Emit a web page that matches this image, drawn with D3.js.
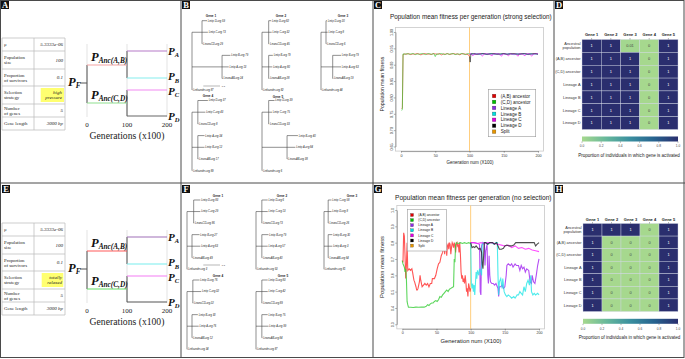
<!DOCTYPE html>
<html><head><meta charset="utf-8">
<script src="https://cdn.jsdelivr.net/npm/d3@7"></script>
<style>body{margin:0;background:#fff}svg{display:block}</style>
</head><body>
<svg id="c" width="685" height="359"></svg>
<script>
// ================= DATA =================
const paramLabels = [["μ"],["Population","size"],["Proportion","of survivors"],["Selection","strategy"],["Number","of genes"],["Gene length"]];
const paramValuesA = [["5.3333e-06"],["100"],["0.1"],["high","pressure"],["5"],["3000 bp"]];
const paramValuesE = [["5.3333e-06"],["100"],["0.1"],["totally","relaxed"],["5"],["3000 bp"]];
const genTicks = [0,100,200];
const schemaBranches = [
  {id:"AB", from:0, to:100, label:"Anc(A,B)"},
  {id:"CD", from:0, to:100, label:"Anc(C,D)"},
  {id:"A", from:100, to:200, label:"A"},
  {id:"B", from:100, to:200, label:"B"},
  {id:"C", from:100, to:200, label:"C"},
  {id:"D", from:100, to:200, label:"D"}
];

function tr(cd, ab, tips, founder){ // tips: [[name,len] x6]
  return {len:0, children:[
    {len:cd, children:tips.slice(0,3).map(t=>({name:t[0],len:t[1]}))},
    {len:ab, children:tips.slice(3,6).map(t=>({name:t[0],len:t[1]}))},
    {name:founder[0], len:founder[1]}]};
}
const treesB = [
  tr(0.06,0.18,[["Lintip D-org 59",0.03],["Lintip C-org 73",0.035],["LinancCD-org 29",0.003],["Lintip B-org 79",0.05],["Lintip A-org 13",0.04],["LinancAB-org 24",0.004]],["Linfounder-org 87",0.002]),
  tr(0.04,0.04,[["Lintip D-org 82",0.015],["Lintip C-org 32",0.018],["LinancCD-org 45",0.003],["Lintip B-org 79",0.025],["Lintip A-org 80",0.022],["LinancAB-org 28",0.004]],["Linfounder-org 82",0.002]),
  tr(0.03,0.07,[["Lintip D-org 20",0.005],["Lintip C-org 8",0.01],["LinancCD-org 6",0.003],["Lintip B-org 79",0.05],["Lintip A-org 63",0.05],["LinancAB-org 19",0.004]],["Linfounder-org 44",0.002]),
  tr(0.035,0.035,[["Lintip D-org 37",0.06],["Lintip C-org 43",0.045],["LinancCD-org 8",0.004],["Lintip A-org 34",0.04],["Lintip B-org 12",0.04],["LinancAB-org 17",0.004]],["Linfounder-org 89",0.002]),
  tr(0.04,0.15,[["Lintip D-org 39",0.035],["Lintip C-org 75",0.02],["LinancCD-org 33",0.003],["Lintip B-org 40",0.065],["Lintip A-org 84",0.05],["LinancAB-org 38",0.003]],["Linfounder-org 6",0.002])
];
const treesF = [
  tr(0.04,0.03,[["Lintip D-org 83",0.04],["Lintip C-org 29",0.04],["LinancCD-org 86",0.003],["Lintip B-org 27",0.045],["Lintip A-org 63",0.05],["LinancAB-org 49",0.003]],["Linfounder-org 3",0.002]),
  tr(0.035,0.035,[["Lintip D-org 6",0.035],["Lintip C-org 13",0.035],["LinancCD-org 73",0.003],["Lintip B-org 79",0.04],["Lintip A-org 57",0.035],["LinancAB-org 40",0.003]],["Linfounder-org 53",0.002]),
  tr(0.025,0.025,[["Lintip C-org 58",0.02],["Lintip D-org 8",0.02],["LinancCD-org 26",0.003],["Lintip B-org 30",0.025],["Lintip A-org 3",0.025],["LinancAB-org 64",0.003]],["Linfounder-org 81",0.002]),
  tr(0.035,0.03,[["Lintip D-org 76",0.04],["Lintip C-org 32",0.05],["LinancCD-org 22",0.003],["Lintip B-org 30",0.035],["Lintip A-org 76",0.04],["LinancAB-org 12",0.003]],["Linfounder-org 34",0.002]),
  tr(0.035,0.035,[["Lintip D-org 83",0.035],["Lintip C-org 42",0.035],["LinancCD-org 89",0.003],["Lintip B-org 75",0.035],["Lintip A-org 99",0.04],["LinancAB-org 84",0.003]],["Linfounder-org 87",0.002])
];
const geneTitles = ["Gene 1","Gene 2","Gene 3","Gene 4","Gene 5"];

// Fitness, strong selection (panel C)
const fitC_AB = [[1,.765],[2,.768],[3,.931],[5,.933],[8,.932],[11,.934],[14,.931],[17,.933],[20,.932],[23,.934],[26,.933],[29,.930],[32,.933],[35,.934],[38,.932],[41,.933],[44,.931],[47,.934],[50,.933],[53,.932],[56,.934],[59,.930],[62,.933],[65,.932],[68,.934],[71,.931],[74,.933],[77,.934],[80,.932],[83,.933],[86,.930],[89,.934],[92,.933],[95,.932],[98,.931],[100,.925]];
const fitC_CD = [[1,.760],[2,.764],[3,.933],[6,.932],[9,.934],[12,.932],[15,.933],[18,.934],[21,.931],[24,.933],[27,.932],[30,.934],[33,.933],[36,.931],[39,.934],[42,.933],[45,.932],[48,.934],[50,.925],[52,.933],[55,.932],[58,.934],[61,.933],[64,.931],[67,.934],[70,.932],[73,.933],[76,.934],[79,.931],[82,.933],[85,.932],[88,.934],[91,.933],[94,.931],[97,.934],[100,.933]];
const fitC_A = [[100,.932],[103,.934],[106,.931],[110,.933],[114,.932],[118,.934],[122,.933],[126,.931],[130,.934],[134,.932],[138,.933],[142,.934],[146,.931],[150,.933],[154,.932],[158,.934],[162,.933],[166,.931],[170,.934],[174,.932],[178,.933],[182,.934],[186,.931],[190,.933],[194,.932],[198,.934],[200,.933]];
const fitC_B = [[100,.933],[104,.932],[108,.934],[112,.933],[116,.931],[120,.934],[124,.932],[128,.933],[132,.934],[136,.932],[140,.933],[144,.931],[148,.934],[152,.933],[156,.932],[160,.934],[164,.931],[168,.933],[172,.932],[176,.934],[180,.933],[184,.931],[188,.934],[192,.932],[196,.933],[200,.932]];
const fitC_C = [[100,.934],[102,.933],[105,.927],[107,.934],[111,.932],[115,.934],[119,.926],[121,.933],[125,.934],[129,.932],[133,.927],[135,.934],[139,.933],[143,.932],[147,.926],[149,.934],[153,.933],[157,.927],[159,.934],[163,.932],[167,.933],[171,.926],[173,.934],[177,.933],[181,.927],[183,.933],[187,.934],[191,.926],[193,.933],[197,.934],[200,.933]];
const fitC_D = [[100,.925],[101,.908],[102,.933],[106,.934],[110,.932],[115,.933],[120,.934],[125,.932],[130,.933],[135,.934],[140,.932],[145,.933],[150,.934],[155,.932],[160,.933],[165,.934],[170,.932],[175,.933],[180,.934],[185,.932],[190,.933],[195,.934],[200,.932]];

// Fitness, no selection (panel G)
const fitG_AB = [[0,.69],[1,.68],[2,.86],[3,.84],[4,.72],[5,.58],[6,.66],[7,.80],[8,.63],[10,.64],[12,.63],[14,.64],[15,.62],[17,.57],[18,.56],[20,.53],[21,.51],[22,.51],[23,.52],[25,.56],[26,.60],[27,.57],[29,.53],[31,.54],[33,.55],[35,.54],[37,.55],[39,.53],[41,.55],[43,.55],[44,.58],[47,.58],[49,.60],[51,.64],[53,.67],[55,.68],[57,.72],[59,.74],[60,.76],[61,.79],[62,.73],[63,.78],[64,.80],[65,.72],[66,.78],[67,.79],[68,.76],[69,.80],[70,.79],[71,.73],[72,.77],[73,.80],[74,.79],[75,.77],[76,.80],[77,.78],[78,.74],[79,.79],[80,.80],[81,.78],[82,.79],[83,.74],[84,.80],[85,.73],[86,.62],[87,.58],[88,.60],[89,.56],[90,.58],[91,.55],[92,.60],[93,.56],[94,.50],[95,.52],[96,.47],[97,.55],[98,.53],[99,.50],[100,.52]];
const fitG_CD = [[0,.69],[1,.67],[2,.66],[3,.65],[4,.62],[5,.64],[6,.58],[7,.44],[8,.42],[9,.405],[12,.404],[16,.403],[20,.405],[24,.404],[28,.405],[32,.405],[35,.41],[37,.42],[39,.415],[41,.425],[43,.43],[45,.43],[47,.44],[49,.445],[51,.44],[53,.45],[55,.47],[57,.465],[59,.48],[61,.49],[63,.50],[65,.51],[67,.50],[69,.515],[71,.52],[73,.525],[75,.53],[76,.70],[77,.68],[78,.79],[79,.80],[82,.795],[85,.80],[88,.795],[91,.80],[94,.795],[97,.80],[100,.795]];
const fitG_A = [[100,.80],[105,.80],[110,.795],[113,.79],[114,.50],[115,.48],[116,.78],[118,.80],[120,.79],[121,.66],[122,.75],[124,.79],[125,.60],[126,.55],[127,.72],[128,.60],[129,.56],[131,.55],[133,.55],[135,.54],[137,.55],[139,.53],[140,.52],[141,.47],[142,.53],[144,.53],[146,.54],[148,.52],[150,.53],[152,.60],[153,.66],[155,.67],[158,.66],[160,.67],[162,.65],[165,.67],[167,.66],[170,.66],[172,.63],[174,.66],[176,.64],[178,.65],[180,.62],[182,.64],[185,.63],[187,.56],[189,.55],[190,.60],[192,.56],[194,.55],[196,.60],[198,.66],[200,.70]];
const fitG_B = [[100,.80],[101,.55],[102,.52],[103,.55],[104,.50],[105,.54],[106,.48],[107,.55],[108,.62],[109,.58],[110,.63],[112,.60],[113,.64],[115,.62],[116,.60],[117,.80],[118,.79],[120,.80],[122,.80],[125,.79],[128,.80],[131,.80],[134,.79],[137,.80],[139,.80],[140,.60],[141,.48],[142,.56],[144,.58],[146,.52],[147,.58],[149,.50],[151,.48],[153,.47],[155,.48],[158,.47],[160,.46],[163,.47],[165,.46],[168,.48],[170,.48],[172,.50],[174,.49],[176,.48],[178,.53],[180,.50],[182,.55],[184,.57],[186,.54],[188,.60],[189,.50],[191,.48],[193,.49],[195,.48],[198,.49],[200,.48]];
const fitG_C = [[100,.80],[105,.80],[110,.795],[115,.80],[120,.795],[125,.80],[130,.80],[135,.795],[140,.79],[145,.785],[150,.78],[155,.785],[160,.77],[165,.78],[170,.765],[175,.77],[180,.76],[185,.765],[190,.755],[195,.75],[200,.745]];
const fitG_D = [[100,.80],[102,.77],[104,.775],[106,.77],[108,.78],[110,.77],[112,.76],[114,.765],[116,.74],[117,.67],[118,.64],[119,.72],[120,.80],[122,.80],[125,.79],[128,.80],[132,.80],[135,.79],[138,.80],[140,.78],[142,.76],[145,.76],[148,.765],[150,.78],[153,.785],[156,.78],[160,.78],[163,.785],[166,.80],[170,.80],[175,.80],[180,.80],[185,.80],[190,.80],[193,.80],[195,.78],[197,.79],[200,.80]];
const splitGen = 100;
const seriesNames = ["(A,B) ancestor","(C,D) ancestor","Lineage A","Lineage B","Lineage C","Lineage D","Split"];
const genAxisTicks = [0,50,100,150,200];
const yTicksC = [0.65,0.70,0.75,0.80,0.85,0.90,0.95,1.00];
const yTicksG = [0.3,0.4,0.5,0.6,0.7,0.8,0.9,1.0];

// Heatmaps
const geneNames = ["Gene 1","Gene 2","Gene 3","Gene 4","Gene 5"];
const popNames = ["Ancestral population","(A,B) ancestor","(C,D) ancestor","Lineage A","Lineage B","Lineage C","Lineage D"];
const actD = [[1,1,0.01,0,1],[1,1,1,0,1],[1,1,1,0,1],[1,1,1,0,1],[1,1,1,0,1],[1,1,1,0,1],[1,1,1,0,1]];
const actH = [[1,1,1,0,1],[1,0,0,0,1],[1,0,0,0,1],[1,0,0,0,1],[1,0,0,0,1],[1,0,0,0,1],[1,0,0,0,1]];
const cbTicks = [0,0.2,0.4,0.6,0.8,1.0];

// ================= STYLE =================
const SERIF = "Liberation Serif, Times New Roman, serif";
const SANS = "Liberation Sans, Arial, sans-serif";
const lineColors = ["#ff2a2a","#33cc33","#a020f0","#22e6e6","#ff22ff","#222222","#ffa500"];
const legendColors = ["#e00000","#00c000","#8a2be2","#00dede","#e000e0","#000000","#e69500"];
const heatStops = ["#a6d88e","#67b89b","#3a8f9f","#27638f","#2a2e6e"];

const svg = d3.select("#c");
const defs = svg.append("defs");
svg.append("rect").attr("width",685).attr("height",359).attr("fill","#fff");

function panel(x,y,w,h,id){
  defs.append("clipPath").attr("id",id).append("rect").attr("x",x).attr("y",y).attr("width",w).attr("height",h);
  return svg.append("g").attr("clip-path",`url(#${id})`);
}
function fitW(sel, w){
  const l = sel.node().getComputedTextLength();
  const fs = parseFloat(sel.attr("font-size"));
  if(l>0) sel.attr("font-size", fs*w/l);
  return sel;
}

// ---------- Panels A / E ----------
function drawParams(g, yOff, values, hlBox){
  const rows = [38,51,69,86,104,117,130].map(v=>v+yOff);
  const cols = [2,34,65];
  const lc = "#b8b8b8";
  rows.forEach(r=>g.append("line").attr("x1",cols[0]).attr("x2",cols[2]).attr("y1",r).attr("y2",r).attr("stroke",lc).attr("stroke-width",0.7));
  cols.forEach(c=>g.append("line").attr("x1",c).attr("x2",c).attr("y1",rows[0]).attr("y2",rows[6]).attr("stroke",lc).attr("stroke-width",0.7));
  const r3 = rows[3], r4 = rows[4];
  g.append("rect").attr("x",hlBox[0]).attr("y",r3+2).attr("width",hlBox[1]).attr("height",r4-r3-4).attr("fill","#ffff70");
  paramLabels.forEach((lab,i)=>{
    const cy = (rows[i]+rows[i+1])/2;
    const t = g.append("text").attr("font-family",SERIF).attr("font-size",4.8).attr("fill","#222");
    lab.forEach((s,j)=>t.append("tspan").attr("x",4).attr("y",cy+1.6+(j-(lab.length-1)/2)*5).text(s));
    const v = values[i];
    const tv = g.append("text").attr("font-family",SERIF).attr("font-style","italic").attr("font-size",5).attr("fill","#222").attr("text-anchor","end");
    v.forEach((s,j)=>tv.append("tspan").attr("x",i===3?62:63).attr("y",cy+1.7+(j-(v.length-1)/2)*5).text(s));
  });
}
function drawSchema(g, yOff, cols){
  const x = d3.scaleLinear().domain([0,200]).range([87,167]);
  const Y = {F:83,AB:65,CD:103,A:51,B:78,C:90,D:116};
  const yy = k=>Y[k]+yOff;
  genTicks.forEach(t=>g.append("line").attr("x1",x(t)).attr("x2",x(t)).attr("y1",44+yOff).attr("y2",117+yOff).attr("stroke","#dcdcdc").attr("stroke-width",0.8));
  const dk = "#555";
  g.append("line").attr("x1",80).attr("x2",x(0)).attr("y1",yy("F")).attr("y2",yy("F")).attr("stroke",dk).attr("stroke-width",1);
  g.append("line").attr("x1",x(0)).attr("x2",x(0)).attr("y1",yy("AB")).attr("y2",yy("CD")).attr("stroke",dk).attr("stroke-width",1);
  g.append("line").attr("x1",x(100)).attr("x2",x(100)).attr("y1",yy("A")).attr("y2",yy("B")).attr("stroke",dk).attr("stroke-width",1);
  g.append("line").attr("x1",x(100)).attr("x2",x(100)).attr("y1",yy("C")).attr("y2",yy("D")).attr("stroke",dk).attr("stroke-width",1);
  schemaBranches.forEach(b=>{
    g.append("line").attr("x1",x(b.from)).attr("x2",x(b.to)).attr("y1",yy(b.id)).attr("y2",yy(b.id))
      .attr("stroke",cols[b.id]).attr("stroke-width",1.2);
  });
  function plab(px, py, sub, big, small){
    const t = g.append("text").attr("x",px).attr("y",py).attr("font-family",SERIF).attr("font-weight","bold").attr("font-style","italic").attr("fill","#111");
    t.append("tspan").attr("font-size",big).text("P");
    t.append("tspan").attr("font-size",small).attr("dy",2.4).text(sub);
  }
  plab(91, yy("AB")-4.5, "Anc(A,B)", 12.5, 7.3);
  plab(91, yy("CD")-4, "Anc(C,D)", 12.5, 7.3);
  plab(68, yy("F")+3, "F", 12.5, 7.5);
  plab(168, yy("A")+3.5, "A", 11, 6.5);
  plab(168, yy("B")+2.3, "B", 11, 6.5);
  plab(168, yy("C")+4.8, "C", 11, 6.5);
  plab(168, yy("D")+3.5, "D", 11, 6.5);
  genTicks.forEach(t=>g.append("text").attr("x",x(t)).attr("y",126.7+yOff).attr("text-anchor","middle").attr("font-family",SERIF).attr("font-size",7).attr("fill","#222").text(String(t)));
  const at = g.append("text").attr("x",127).attr("y",138.8+yOff).attr("text-anchor","middle").attr("font-family",SERIF).attr("font-size",9).attr("fill","#222").text("Generations (x100)");
  fitW(at,75);
}
const gA = panel(0,0,181,183,"clA");
drawParams(gA, 0, paramValuesA, [40.7,23.3]);
drawSchema(gA, 0, {AB:"#f4a3a3",CD:"#8fe08f",A:"#b57ac8",B:"#86eeee",C:"#f28af2",D:"#666"});
const gE = panel(0,183,181,176,"clE");
drawParams(gE, 185, paramValuesE, [41.7,21.6]);
drawSchema(gE, 186, {AB:"#ff5a5a",CD:"#66dd66",A:"#a070b8",B:"#78eeee",C:"#f47cf4",D:"#555"});

// ---------- Panels B / F (trees) ----------
const PXU = 167;
function drawTree(g, tree, L, title){
  const root = d3.hierarchy(tree);
  root.eachBefore(d=>d.cum = (d.parent?d.parent.cum:0) + (d.data.len||0));
  const x = d3.scaleLinear().domain([0,1]).range([L.x0, L.x0+PXU]);
  const leaves = root.leaves();
  const y = d3.scaleLinear().domain([0,leaves.length-1]).range([L.y0,L.y1]);
  leaves.forEach((d,i)=>d.yp = y(i));
  root.eachAfter(d=>{ if(d.children){ d.yp = (d.children[0].yp + d.children[d.children.length-1].yp)/2; } });
  const st = "#444";
  root.descendants().forEach(d=>{
    if(d.parent){
      g.append("line").attr("x1",x(d.parent.cum)).attr("x2",x(d.cum)).attr("y1",d.yp).attr("y2",d.yp).attr("stroke",st).attr("stroke-width",0.6);
    }
    if(d.children){
      g.append("line").attr("x1",x(d.cum)).attr("x2",x(d.cum)).attr("y1",d.children[0].yp).attr("y2",d.children[d.children.length-1].yp).attr("stroke",st).attr("stroke-width",0.6);
    }
  });
  leaves.forEach(d=>{
    g.append("text").attr("x",x(d.cum)+0.8).attr("y",d.yp+0.9).attr("font-family",SANS).attr("font-style","italic").attr("font-size",2.6).attr("fill","#222").text(d.data.name);
  });
  g.append("text").attr("x",L.tx).attr("y",L.ty).attr("text-anchor","middle").attr("font-family",SANS).attr("font-weight","bold").attr("font-size",3.1).attr("fill","#222").text(title);
}
function scaleBar(g, x0, yb){
  const x = d3.scaleLinear().domain([0,1]).range([x0, x0+PXU]);
  g.append("line").attr("x1",x(0)).attr("x2",x(0.1)).attr("y1",yb).attr("y2",yb).attr("stroke","#888").attr("stroke-width",0.6);
  g.append("text").attr("x",x(0.1)+1.7).attr("y",yb+0.9).attr("font-family",SANS).attr("font-size",2.5).attr("fill","#333").text("0.1");
}
const layB = [
  {x0:192,y0:20.7,y1:90,tx:211,ty:17},
  {x0:262,y0:20.7,y1:90,tx:281,ty:17},
  {x0:321,y0:20.7,y1:90,tx:343,ty:17},
  {x0:192,y0:100.5,y1:170.7,tx:208,ty:97.3},
  {x0:262,y0:100.5,y1:170.7,tx:278,ty:98}
];
const layF = [
  {x0:187,y0:200,y1:269.3,tx:218,ty:197},
  {x0:256,y0:200,y1:269.3,tx:282,ty:197},
  {x0:324,y0:200,y1:269.3,tx:352,ty:197},
  {x0:187,y0:280,y1:349.3,tx:218,ty:276.5},
  {x0:256,y0:280,y1:349.3,tx:283,ty:276.5}
];
const gB = panel(181,0,192,183,"clB");
treesB.forEach((t,i)=>drawTree(gB,t,layB[i],geneTitles[i]));
scaleBar(gB, 203.3, 86);
const gF = panel(181,183,192,176,"clF");
treesF.forEach((t,i)=>drawTree(gF,t,layF[i],geneTitles[i]));
scaleBar(gF, 203.3, 265);

// ---------- Panels C / G (fitness) ----------
function drawFit(g, P){
  const x = d3.scaleLinear().domain([0,200]).range(P.xr);
  const y = d3.scaleLinear().domain(P.yd).range(P.yr);
  const px = (P.xr[1]-P.xr[0])*0.04, py = (P.yr[0]-P.yr[1])*0.04;
  const bx0 = P.xr[0]-px, bx1 = P.xr[1]+px, by0 = P.yr[1]-py, by1 = P.yr[0]+py;
  g.append("rect").attr("x",bx0).attr("y",by0).attr("width",bx1-bx0).attr("height",by1-by0).attr("fill","none").attr("stroke","#c8c8c8").attr("stroke-width",0.8);
  g.append("line").attr("x1",x(splitGen)).attr("x2",x(splitGen)).attr("y1",by0).attr("y2",by1).attr("stroke","#ffc870").attr("stroke-width",0.9);
  const line = d3.line().x(d=>x(d[0])).y(d=>y(d[1]));
  P.series.forEach(s=>{
    g.append("path").datum(s.data).attr("d",line).attr("fill","none").attr("stroke",lineColors[s.ci]).attr("stroke-opacity",P.op).attr("stroke-width",P.lw);
  });
  const ax = g.append("g").attr("transform",`translate(0,${by1})`).call(d3.axisBottom(x).tickValues(genAxisTicks).tickSize(1.6).tickSizeOuter(0).tickPadding(1.2));
  ax.selectAll("text").attr("font-size",P.tfs).attr("font-family",SANS).attr("fill","#333");
  const ay = g.append("g").attr("transform",`translate(${bx0},0)`).call(d3.axisLeft(y).tickValues(P.yt).tickFormat(d3.format(P.fmt)).tickSize(1.6).tickSizeOuter(0));
  ay.selectAll("text").attr("transform","rotate(-90)").attr("x",0).attr("y",-2.6).attr("dy",0).attr("text-anchor","middle").attr("font-size",P.tfs).attr("font-family",SANS).attr("fill","#333");
  [ax,ay].forEach(a=>{a.select(".domain").attr("stroke","#555").attr("stroke-width",0.5); a.selectAll(".tick line").attr("stroke","#555").attr("stroke-width",0.5);});
  const t = g.append("text").attr("x",P.title[1]).attr("y",P.title[2]).attr("font-family",SANS).attr("font-size",6).attr("fill","#222").text(P.title[0]);
  fitW(t, P.title[3]);
  const xt = g.append("text").attr("x",P.xl[0]).attr("y",P.xl[1]).attr("text-anchor","middle").attr("font-family",SANS).attr("font-size",5).attr("fill","#222").text("Generation num (X100)");
  fitW(xt, P.xl[2]);
  const yt = g.append("text").attr("transform",`translate(${P.yl[0]},${P.yl[1]}) rotate(-90)`).attr("text-anchor","middle").attr("font-family",SANS).attr("font-size",5).attr("fill","#222").text("Population mean fitness");
  fitW(yt, P.yl[2]);
  const Lg = P.leg;
  g.append("rect").attr("x",Lg.x).attr("y",Lg.y).attr("width",Lg.w).attr("height",Lg.h).attr("fill","#fff").attr("stroke","#999").attr("stroke-width",0.6);
  seriesNames.forEach((n,i)=>{
    const yy = Lg.y0 + i*Lg.dy;
    g.append("rect").attr("x",Lg.sx).attr("y",yy-Lg.ss/2).attr("width",Lg.ss).attr("height",Lg.ss).attr("fill",legendColors[i]).attr("stroke","#333").attr("stroke-width",0.25);
    g.append("text").attr("x",Lg.tx).attr("y",yy+Lg.fs*0.36).attr("font-family",SANS).attr("font-size",Lg.fs).attr("fill","#222").text(n);
  });
}
const gC = panel(373,0,181,183,"clC");
drawFit(gC, {
  xr:[401,538], yd:[0.65,1.0], yr:[146.5,32], yt:yTicksC, fmt:".2f", tfs:3.7, lw:0.9, op:0.75,
  series:[{data:fitC_AB,ci:0},{data:fitC_CD,ci:1},{data:fitC_A,ci:2},{data:fitC_B,ci:3},{data:fitC_C,ci:4},{data:fitC_D,ci:5}],
  title:["Population mean fitness per generation (strong selection)",390,19,162],
  xl:[470,164,47], yl:[383.5,84,55],
  leg:{x:488.3,y:89.3,w:47.4,h:47.4,y0:96,dy:5.95,sx:492.3,ss:3.6,tx:500.7,fs:4.6}
});
const gG = panel(373,183,181,176,"clG");
drawFit(gG, {
  xr:[402.3,539], yd:[0.3,1.0], yr:[324.3,210], yt:yTicksG, fmt:".1f", tfs:3.6, lw:1.1, op:0.8,
  series:[{data:fitG_AB,ci:0},{data:fitG_CD,ci:1},{data:fitG_A,ci:2},{data:fitG_B,ci:3},{data:fitG_C,ci:4},{data:fitG_D,ci:5}],
  title:["Population mean fitness per generation (no selection)",395,199.5,157],
  xl:[471,343,61], yl:[383.5,267,62],
  leg:{x:407.3,y:209.3,w:39.4,h:41.7,y0:215,dy:5.1,sx:410.5,ss:3,tx:418.3,fs:3.3}
});

// ---------- Panels D / H (heatmaps) ----------
const heatColor = d3.scaleLinear().domain([0,0.25,0.5,0.75,1]).range(heatStops);
const grad = defs.append("linearGradient").attr("id","cbg").attr("x1","0%").attr("x2","100%").attr("y1","0%").attr("y2","0%");
heatStops.forEach((c,i)=>grad.append("stop").attr("offset",(i*25)+"%").attr("stop-color",c));
function drawHeat(g, data, L){
  const x = d3.scaleBand().domain(geneNames).range([L.x0,L.x1]);
  const y = d3.scaleBand().domain(popNames).range([L.y0,L.y1]);
  data.forEach((row,ri)=>row.forEach((v,ci)=>{
    const gx = x(geneNames[ci]), gy = y(popNames[ri]);
    g.append("rect").attr("x",gx).attr("y",gy).attr("width",x.bandwidth()).attr("height",y.bandwidth()).attr("fill",heatColor(v)).attr("stroke","#d0d6e4").attr("stroke-width",0.4);
    g.append("text").attr("x",gx+x.bandwidth()/2).attr("y",gy+y.bandwidth()/2+1.4).attr("text-anchor","middle").attr("font-family",SANS).attr("font-size",3.9)
      .attr("fill",v>0.5?"#fff":"#444").text(String(v));
  }));
  geneNames.forEach(n=>{
    const cx = x(n)+x.bandwidth()/2;
    g.append("text").attr("x",cx).attr("y",L.hy).attr("text-anchor","middle").attr("font-family",SANS).attr("font-weight","bold").attr("font-size",4).attr("fill","#222").text(n);
    g.append("line").attr("x1",cx).attr("x2",cx).attr("y1",L.y0-1.5).attr("y2",L.y0).attr("stroke","#444").attr("stroke-width",0.4);
  });
  popNames.forEach(n=>{
    const cy = y(n)+y.bandwidth()/2;
    const parts = n==="Ancestral population" ? ["Ancestral","population"] : [n];
    const t = g.append("text").attr("text-anchor","end").attr("font-family",SANS).attr("font-size",3.9).attr("fill","#333");
    parts.forEach((p,j)=>t.append("tspan").attr("x",L.x0-1.5).attr("y",cy+1.4+(j-(parts.length-1)/2)*4.2).text(p));
  });
  const cx = d3.scaleLinear().domain([0,1]).range([L.x0,L.x1]);
  g.append("rect").attr("x",L.x0).attr("y",L.cy).attr("width",L.x1-L.x0).attr("height",5).attr("fill","url(#cbg)");
  cbTicks.forEach(t=>{
    g.append("line").attr("x1",cx(t)).attr("x2",cx(t)).attr("y1",L.cy+5).attr("y2",L.cy+6.3).attr("stroke","#444").attr("stroke-width",0.4);
    g.append("text").attr("x",cx(t)).attr("y",L.cly).attr("text-anchor","middle").attr("font-family",SANS).attr("font-size",3.2).attr("fill","#444").text(d3.format(".1f")(t));
  });
  const tt = g.append("text").attr("x",(L.x0+L.x1)/2-1).attr("y",L.cty).attr("text-anchor","middle").attr("font-family",SANS).attr("font-size",4.3).attr("fill","#222").text("Proportion of individuals in which gene is activated");
  fitW(tt, 102);
}
const gD = panel(554,0,131,183,"clD");
drawHeat(gD, actD, {x0:582,x1:678,y0:39.5,y1:129.5,hy:36.2,cy:136.5,cly:147,cty:157});
const gH = panel(554,183,131,176,"clH");
drawHeat(gH, actH, {x0:583,x1:678,y0:223.5,y1:311.5,hy:220.5,cy:318.8,cly:329.5,cty:339.3});

// ---------- Borders and panel letters ----------
const bc = "#4a4a4a";
svg.append("rect").attr("x",0.5).attr("y",0.5).attr("width",683.5).attr("height",357).attr("fill","none").attr("stroke",bc).attr("stroke-width",1);
svg.append("line").attr("x1",0).attr("x2",685).attr("y1",183).attr("y2",183).attr("stroke",bc).attr("stroke-width",1);
[181,373,554].forEach(xv=>svg.append("line").attr("x1",xv).attr("x2",xv).attr("y1",0).attr("y2",358).attr("stroke",bc).attr("stroke-width",1));
const letters = [["A",1,1],["B",182,1],["C",374,1],["D",555,1],["E",2,185],["F",182,185],["G",374,185],["H",555,185]];
letters.forEach(([l,lx,ly])=>{
  svg.append("rect").attr("x",lx).attr("y",ly).attr("width",8).attr("height",8).attr("fill","#111");
  svg.append("text").attr("x",lx+4).attr("y",ly+7).attr("text-anchor","middle").attr("font-family",SERIF).attr("font-weight","bold").attr("font-size",8.5).attr("fill","#fff").text(l);
});
</script>
</body></html>
